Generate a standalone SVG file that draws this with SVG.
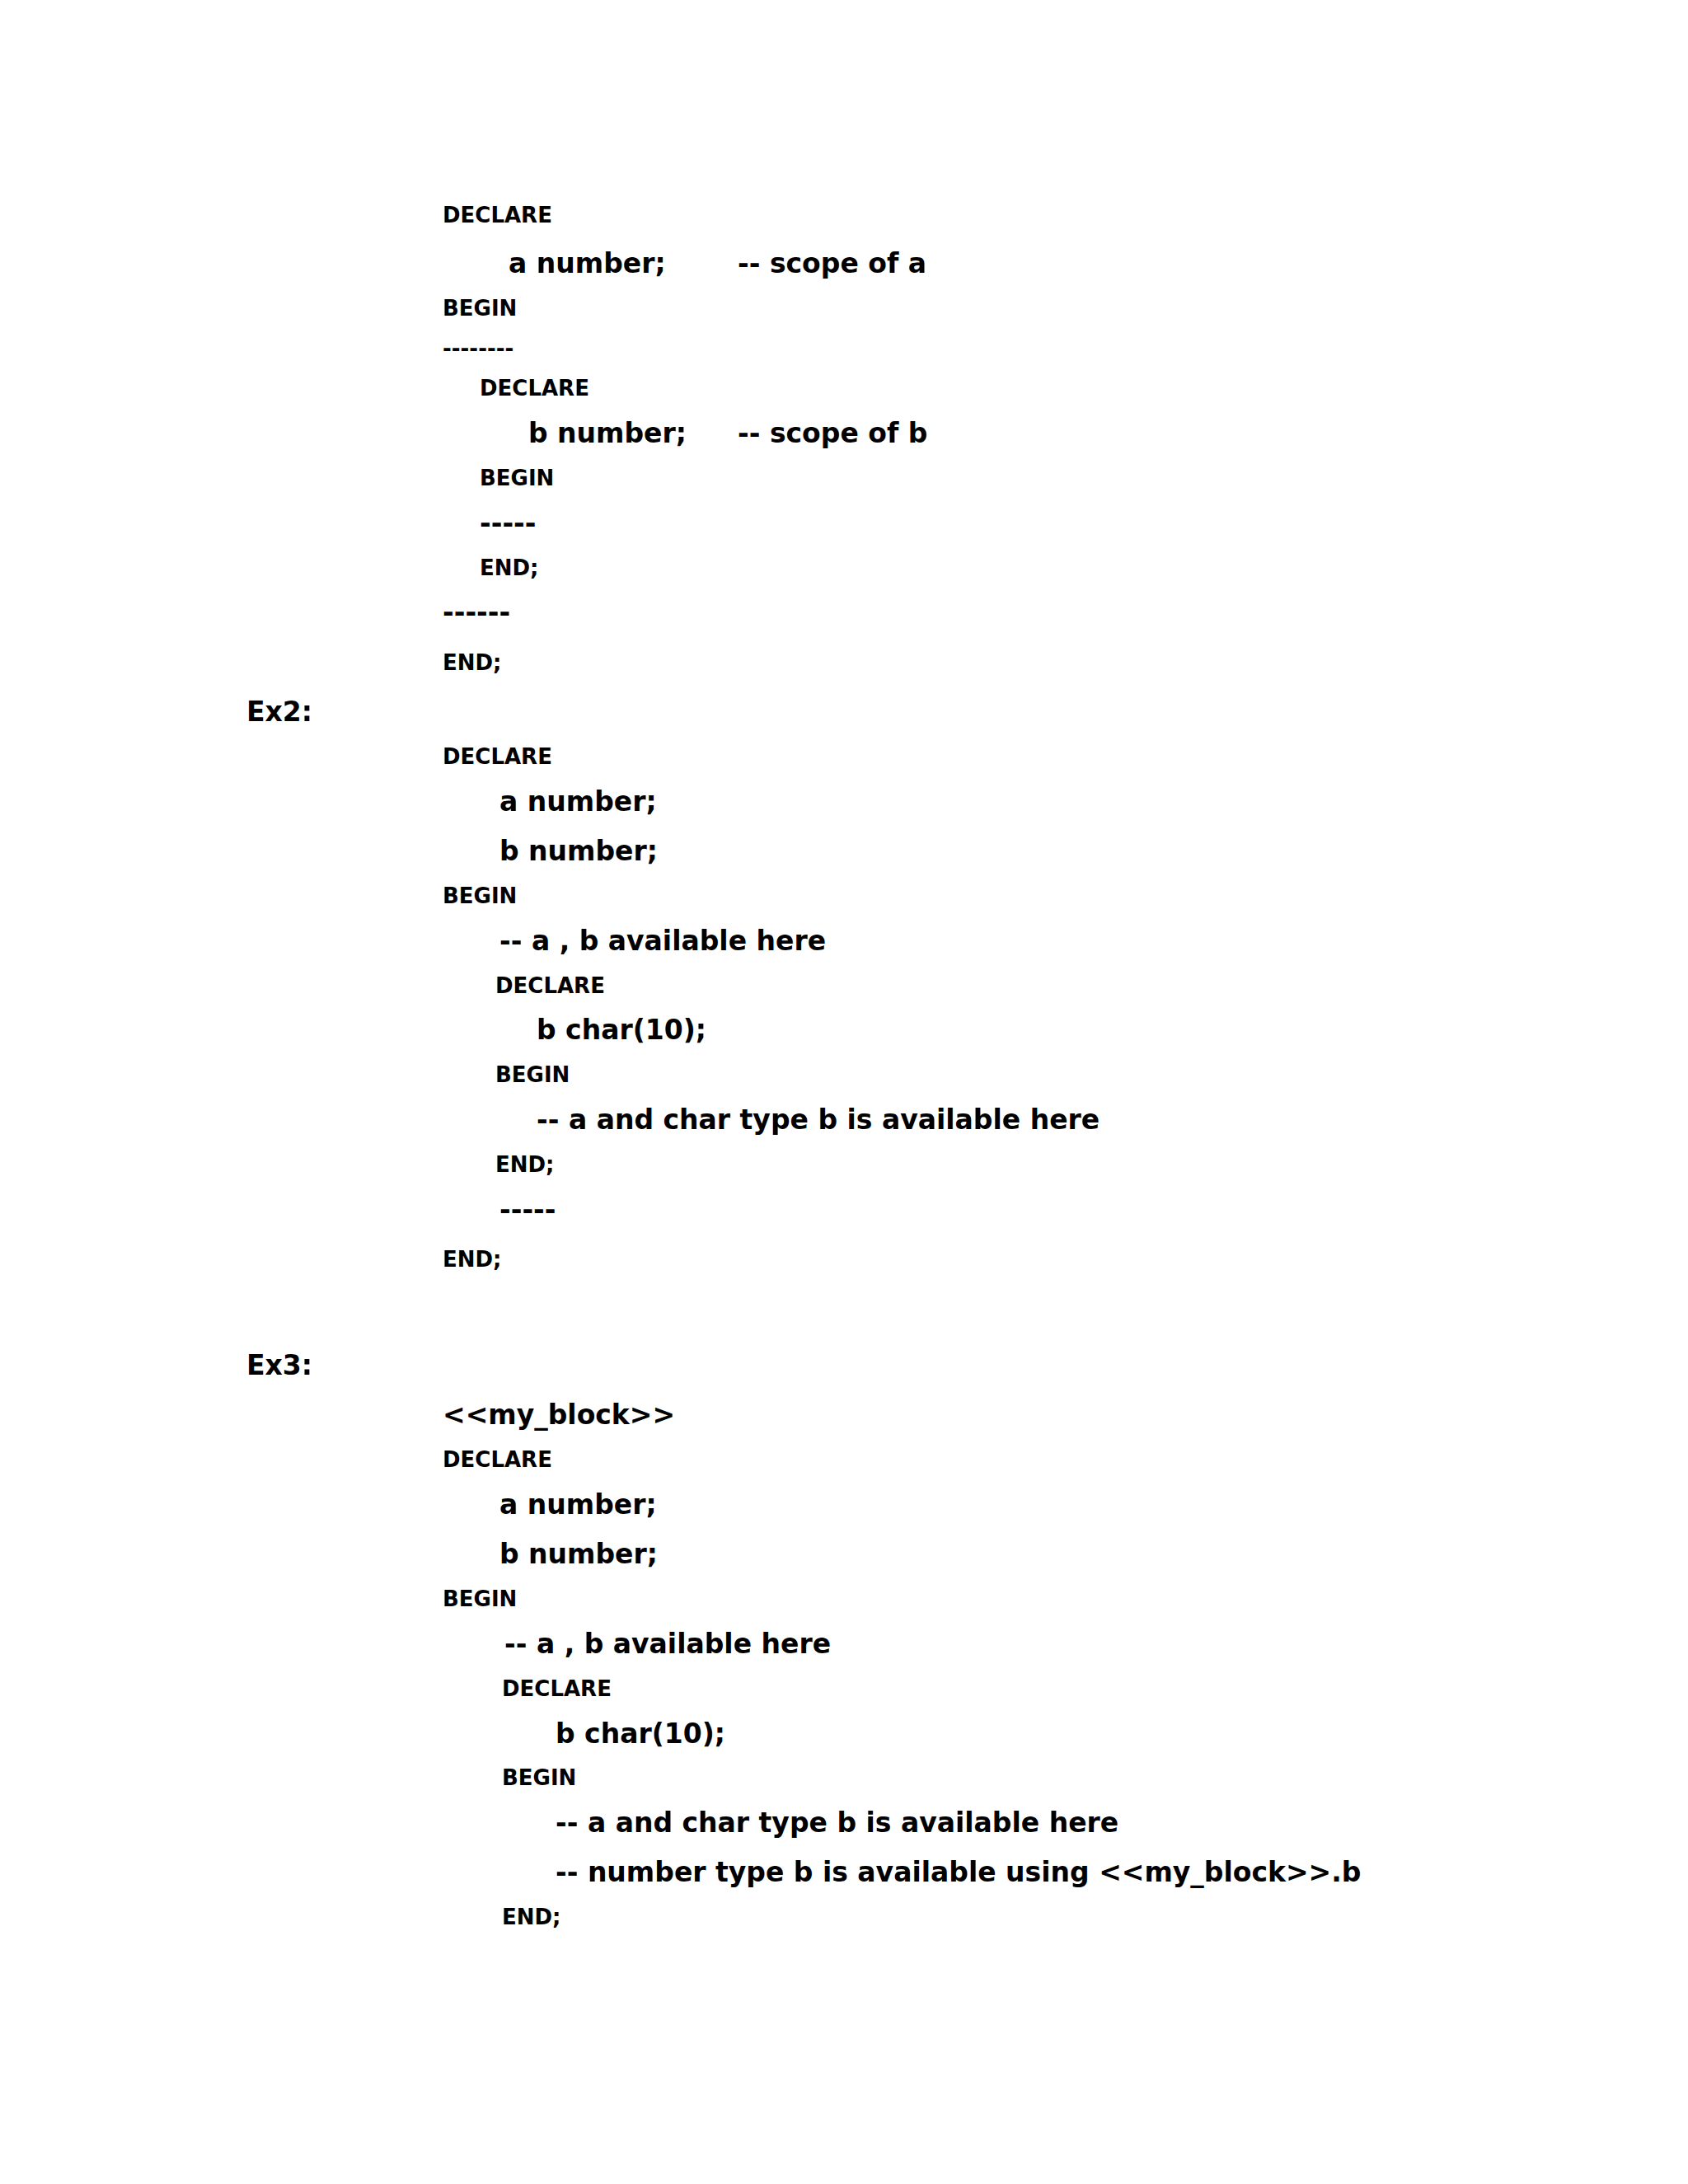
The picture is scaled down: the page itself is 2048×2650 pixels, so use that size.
<svg xmlns="http://www.w3.org/2000/svg" width="2048" height="2650" viewBox="0 0 2048 2650">
<style>
text{font-family:"DejaVu Sans","Verdana",sans-serif;font-weight:bold;fill:#000}
.s{font-size:26px}.l{font-size:33px}
</style>
<rect width="2048" height="2650" fill="#fff"/>
<g id="ex1">
<text class="s" x="537" y="270">DECLARE</text>
<text class="l" x="617" y="331">a number;</text>
<text class="l" x="895" y="331">-- scope of a</text>
<text class="s" x="537" y="383">BEGIN</text>
<text class="s" x="537" y="432">--------</text>
<text class="s" x="582" y="480">DECLARE</text>
<text class="l" x="641" y="537">b number;</text>
<text class="l" x="895" y="537">-- scope of b</text>
<text class="s" x="582" y="589">BEGIN</text>
<text class="l" x="582" y="646">-----</text>
<text class="s" x="582" y="698">END;</text>
<text class="l" x="537" y="754">------</text>
<text class="s" x="537" y="813">END;</text>
</g>
<g id="ex2">
<text class="l" x="299" y="875">Ex2:</text>
<text class="s" x="537" y="927">DECLARE</text>
<text class="l" x="606" y="984">a number;</text>
<text class="l" x="606" y="1044">b number;</text>
<text class="s" x="537" y="1096">BEGIN</text>
<text class="l" x="606" y="1153">-- a , b available here</text>
<text class="s" x="601" y="1205">DECLARE</text>
<text class="l" x="651" y="1261">b char(10);</text>
<text class="s" x="601" y="1313">BEGIN</text>
<text class="l" x="651" y="1370">-- a and char type b is available here</text>
<text class="s" x="601" y="1422">END;</text>
<text class="l" x="606" y="1479">-----</text>
<text class="s" x="537" y="1537">END;</text>
</g>
<g id="ex3">
<text class="l" x="299" y="1668">Ex3:</text>
<text class="l" x="537" y="1728">&lt;&lt;my_block&gt;&gt;</text>
<text class="s" x="537" y="1780">DECLARE</text>
<text class="l" x="606" y="1837">a number;</text>
<text class="l" x="606" y="1897">b number;</text>
<text class="s" x="537" y="1949">BEGIN</text>
<text class="l" x="612" y="2006">-- a , b available here</text>
<text class="s" x="609" y="2058">DECLARE</text>
<text class="l" x="674" y="2115">b char(10);</text>
<text class="s" x="609" y="2166">BEGIN</text>
<text class="l" x="674" y="2223">-- a and char type b is available here</text>
<text class="l" x="674" y="2283">-- number type b is available using &lt;&lt;my_block&gt;&gt;.b</text>
<text class="s" x="609" y="2335">END;</text>
</g>
<g id="connectors"/>
</svg>
